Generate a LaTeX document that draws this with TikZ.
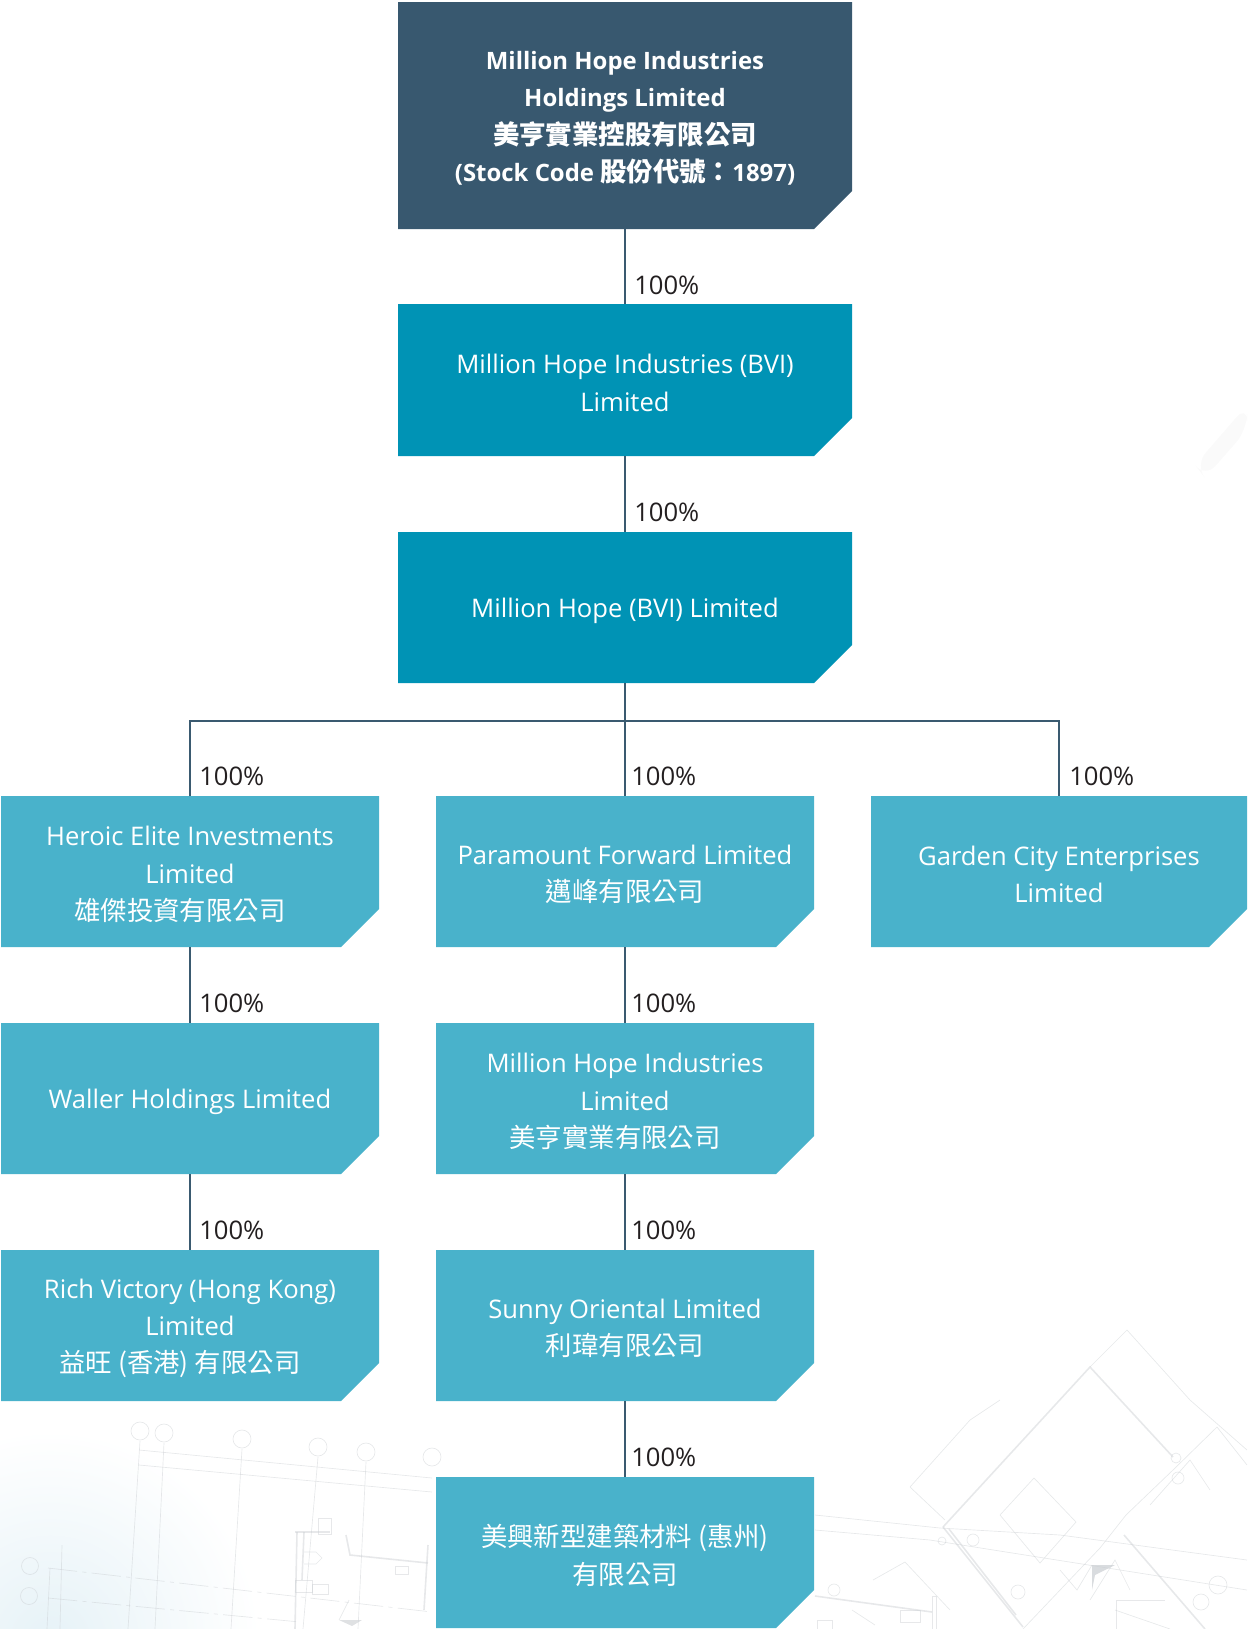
\documentclass[tikz,border=0pt]{standalone}
\usepackage{fontspec}
\setmainfont{Open Sans}
\newfontfamily\cjk{Noto Sans CJK TC}
\newcommand{\zh}[1]{{\cjk\fontsize{19.8pt}{28pt}\selectfont #1}}
\definecolor{cdark}{HTML}{38586F}
\definecolor{cmid}{HTML}{0093B5}
\definecolor{clight}{HTML}{49B2CB}
\definecolor{cline}{HTML}{3A5A70}
\definecolor{ctxt}{HTML}{231F20}
\definecolor{cbp}{HTML}{C9CDD1}
\definecolor{chaze}{HTML}{E6F2F7}
\newcommand{\cutbox}[7]{%
  \fill[#6] (#2,#3) -- (#4,#3) -- (#4,#5-38) -- (#4-38,#5) -- (#2,#5) -- cycle;
  \pgfmathsetlengthmacro{\bw}{(#4-#2)*0.75pt}%
  \pgfmathsetlengthmacro{\bh}{(#5-#3)*0.75pt}%
  \node[boxframe,minimum width=\bw,minimum height=\bh,label={[boxtext]center:{#7}}] (#1) at ({(#2+#4)/2},{(#3+#5)/2}) {};}
\tikzset{
  boxframe/.style={inner sep=0pt,outer sep=0pt},
  boxtext/.style={inner sep=0pt,outer sep=0pt,yshift=-2.2pt,text=white,align=center,font=\fontsize{19.2pt}{28pt}\selectfont},
  conn/.style={draw=cline,line width=1.8pt},
  pct/.style={anchor=west,inner sep=0pt,text=ctxt,font=\fontsize{19.2pt}{22pt}\selectfont},
  bpa/.style={draw=cbp,line width=0.5pt,opacity=0.45},
  bpb/.style={draw=cbp,line width=1.2pt,opacity=0.45},
  bpd/.style={bpa,dash pattern=on 22pt off 4pt on 3pt off 4pt},
}
\begin{document}
\begin{tikzpicture}[x=0.75pt,y=-0.75pt]
\useasboundingbox (0,0) rectangle (1247,1629);
% faint blueprint backdrop
\begin{scope}
\clip (0,1380) rectangle (1247,1629);
\shade[inner color=chaze,outer color=white,draw=none] (50,1640) circle (210);
\end{scope}
\fill[gray!6,opacity=0.6,rounded corners=12pt] (1195,465) -- (1247,405) -- (1247,430) -- (1205,478) -- cycle;
\begin{scope}
\clip (0,1300) rectangle (1247,1629);
% left plan: grid bubbles and lines
\foreach \cx/\cy/\ex in {140/1431/128,164/1433/155,242/1439/231,318/1447/303,366/1452/358}{
  \draw[bpa] (\cx,\cy) circle (9);
  \draw[bpa] (\cx,\cy+10) -- (\ex,1629);
}
\draw[bpa] (432,1457) circle (9);
\draw[bpa] (30,1566) circle (8.5);
\draw[bpa] (29,1596) circle (8.5);
\draw[bpa] (139,1450) -- (432,1478);
\draw[bpa] (139,1465) -- (432,1492);
\draw[bpd] (48,1568) -- (432,1612);
\draw[bpd] (48,1598) -- (300,1622);
\draw[bpa] (50,1568) -- (47,1629);
\draw[bpa] (62,1545) -- (60,1629);
% left plan: building outline
\draw[bpb] (297,1532) -- (295,1629);
\draw[bpb] (304,1532) -- (302,1580);
\draw[bpb] (295,1532) -- (330,1532);
\draw[bpb] (346,1535) -- (350,1555) -- (428,1563);
\draw[bpb] (428,1545) -- (424,1610);
\draw[bpa] (318,1518) rectangle (331,1534);
\draw[bpa] (304,1552) -- (316,1552) -- (322,1558) -- (316,1564) -- (304,1564);
\draw[bpa] (295,1580) rectangle (312,1592);
\draw[bpa] (312,1584) rectangle (328,1594);
\draw[bpa] (395,1566) rectangle (408,1574);
\fill[cbp,opacity=0.6] (339,1620) -- (362,1620) -- (352,1626) -- cycle;
\draw[bpa] (339,1620) -- (349,1600);
% right plan: rotated rooms
\draw[bpb] (943,1527) -- (1090,1367) -- (1173,1457);
\draw[bpb] (943,1527) -- (1023,1627);
\draw[bpb] (949,1529) -- (1016,1615);
\draw[bpa] (1023,1629) -- (1100,1548) -- (1126,1515) -- (1173,1470) -- (1217,1427) -- (1247,1465);
\draw[bpb] (1124,1535) -- (1205,1629);
\draw[bpa] (1000,1515) -- (1034,1478) -- (1076,1522) -- (1040,1563) -- (1000,1515);
\draw[bpa] (910,1487) -- (970,1420) -- (1000,1400);
\draw[bpa] (910,1487) -- (945,1520);
\draw[bpa] (1090,1367) -- (1127,1330) -- (1190,1400) -- (1247,1450);
\draw[bpa] (815,1515) -- (940,1528) -- (1060,1535) -- (1247,1560);
\draw[bpa] (815,1530) -- (930,1540) -- (1247,1590);
\draw[bpa] (1090,1600) -- (1115,1560) -- (1130,1590);
\draw[bpa] (1116,1629) -- (1116,1600) -- (1165,1600);
\draw[bpa] (1170,1629) -- (1115,1610);
\draw[bpa] (1150,1505) -- (1190,1460) -- (1210,1490);
\draw[bpa] (873,1580) -- (905,1562) -- (950,1610);
\draw[bpa] (973,1540) circle (6);
\draw[bpa] (942,1541) circle (4);
\draw[bpa] (1018,1592) circle (7);
\draw[bpa] (1178,1478) circle (6);
\draw[bpa] (1176,1458) circle (5);
\draw[bpa] (1201,1602) circle (8);
\draw[bpa] (1218,1585) circle (9);
\draw[bpa] (1060,1570) -- (1077,1590) -- (1092,1565);
\fill[cbp,opacity=0.7] (1092,1565) -- (1115,1565) -- (1095,1575) -- (1092,1590) -- cycle;
% right of centre: low plan
\draw[bpb] (815,1596) -- (932,1612);
\draw[bpa] (932,1596) rectangle (936,1629);
\draw[bpa] (817,1620) rectangle (832,1629);
\draw[bpa] (852,1610) -- (875,1625);
\draw[bpa] (900,1610) rectangle (920,1622);
\draw[bpa] (834,1590) circle (6);
\end{scope}
% boxes
\cutbox{top}{398}{2}{852}{229}{cdark}{\fontsize{17.95pt}{28pt}\selectfont\bfseries Million Hope Industries\\ \fontsize{17.95pt}{28pt}\selectfont\bfseries Holdings Limited\\ \zh{\bfseries 美亨實業控股有限公司}\\ \fontsize{17.95pt}{28pt}\selectfont\bfseries (Stock Code \zh{\bfseries 股份代號：}1897)}
\cutbox{bvione}{398}{304}{852}{456}{cmid}{Million Hope Industries (BVI)\\ Limited}
\cutbox{bvitwo}{398}{532}{852}{683}{cmid}{Million Hope (BVI) Limited}
\cutbox{heroic}{1}{796}{379}{947}{clight}{Heroic Elite Investments\\ Limited\\ \zh{雄傑投資有限公司}\hspace*{15pt}}
\cutbox{paramount}{436}{796}{814}{947}{clight}{Paramount Forward Limited\\ \zh{邁峰有限公司}}
\cutbox{garden}{871}{796}{1247}{947}{clight}{Garden City Enterprises\\ Limited}
\cutbox{waller}{1}{1023}{379}{1174}{clight}{Waller Holdings Limited}
\cutbox{mhi}{436}{1023}{814}{1174}{clight}{Million Hope Industries\\ Limited\\ \zh{美亨實業有限公司}\hspace*{15pt}}
\cutbox{rich}{1}{1250}{379}{1401}{clight}{Rich Victory (Hong Kong)\\ Limited\\ \zh{益旺 (香港) 有限公司}\hspace*{15pt}}
\cutbox{sunny}{436}{1250}{814}{1401}{clight}{Sunny Oriental Limited\\ \zh{利瑋有限公司}}
\cutbox{huizhou}{436}{1477}{814}{1628}{clight}{\zh{美興新型建築材料 (惠州)}\\ \zh{有限公司}}
% connectors
\coordinate (bus) at (bvitwo.south |- 0,721);
\draw[conn] (top.south) -- (bvione.north);
\draw[conn] (bvione.south) -- (bvitwo.north);
\draw[conn] (bvitwo.south) -- (bus);
\draw[conn] (heroic.north) -- (heroic.north |- bus) -- (garden.north |- bus) -- (garden.north);
\draw[conn] (bus) -- (paramount.north);
\draw[conn] (heroic.south) -- (waller.north);
\draw[conn] (waller.south) -- (rich.north);
\draw[conn] (paramount.south) -- (mhi.north);
\draw[conn] (mhi.south) -- (sunny.north);
\draw[conn] (sunny.south) -- (huizhou.north);
% percentages
\node[pct] (p1) at (634,285) {100\%};
\node[pct] (p2) at (634,512) {100\%};
\node[pct] (p3) at (199,776) {100\%};
\node[pct] (p4) at (631,776) {100\%};
\node[pct] (p5) at (1069,776) {100\%};
\node[pct] (p6) at (199,1003) {100\%};
\node[pct] (p7) at (631,1003) {100\%};
\node[pct] (p8) at (199,1230) {100\%};
\node[pct] (p9) at (631,1230) {100\%};
\node[pct] (p10) at (631,1457) {100\%};
\end{tikzpicture}
\end{document}
